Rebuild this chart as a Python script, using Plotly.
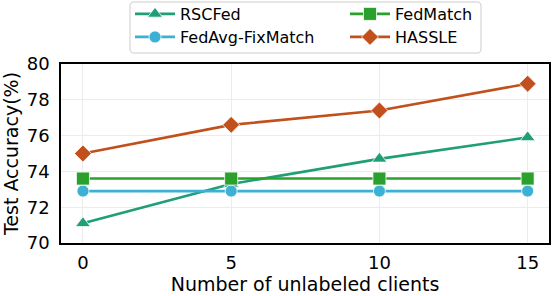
import plotly.graph_objects as go

clients = [0, 5, 10, 15]
rscfed = [71.1, 73.3, 74.7, 75.9]
fedavg_fixmatch = [72.9, 72.9, 72.9, 72.9]
fedmatch = [73.6, 73.6, 73.6, 73.6]
hassle = [75.0, 76.6, 77.4, 78.9]
x_ticks = [0, 5, 10, 15]
y_ticks = [70, 72, 74, 76, 78, 80]

W, H = 552, 296
L, R, T, B = 61, 3, 64, 53
PW, PH = W - L - R, H - T - B

def px_x(p):
    return (p - L) / PW

def px_y(p):
    return (H - B - p) / PH

# name, values, colour, symbol, size, legend id, legend pixel position (left, top)
series = [
    ("RSCFed", rscfed, "#1f9e77", "triangle-up", 13, "legend", (130, -3)),
    ("FedAvg-FixMatch", fedavg_fixmatch, "#3cb1d3", "circle", 12, "legend2", (130, 20)),
    ("FedMatch", fedmatch, "#2ca02c", "square", 13, "legend3", (345, -3)),
    ("HASSLE", hassle, "#c1501c", "diamond", 13, "legend4", (345, 20)),
]

fig = go.Figure()
for name, vals, color, sym, size, lg, pos in series:
    fig.add_trace(go.Scatter(
        x=clients, y=vals, name=name, mode="lines+markers",
        line=dict(color=color, width=2.6),
        marker=dict(symbol=sym, size=size, color=color,
                    line=dict(color="rgba(255,255,255,0.75)", width=1)),
        legend=lg, showlegend=True,
    ))

# rounded legend frame
x0, x1, y0, y1 = 130, 481, 2, 53
r = 4
def P(x, y):
    return f"{px_x(x):.5f},{px_y(y):.5f}"
path = (f"M{P(x0 + r, y0)} L{P(x1 - r, y0)} Q{P(x1, y0)} {P(x1, y0 + r)} "
        f"L{P(x1, y1 - r)} Q{P(x1, y1)} {P(x1 - r, y1)} "
        f"L{P(x0 + r, y1)} Q{P(x0, y1)} {P(x0, y1 - r)} "
        f"L{P(x0, y0 + r)} Q{P(x0, y0)} {P(x0 + r, y0)} Z")
fig.add_shape(type="path", path=path, xref="paper", yref="paper",
              line=dict(color="#cccccc", width=1), fillcolor="rgba(255,255,255,0.9)",
              layer="above")

font = "DejaVu Sans"
leg_common = dict(bgcolor="rgba(0,0,0,0)", borderwidth=0, font=dict(family=font, size=16, color="black"),
                  itemwidth=40, tracegroupgap=0, xanchor="left", yanchor="top", orientation="v")
legends = {}
for name, vals, color, sym, size, lg, pos in series:
    legends[lg] = dict(x=px_x(pos[0]), y=px_y(pos[1]), **leg_common)

fig.update_layout(
    width=W, height=H,
    margin=dict(l=L, r=R, t=T, b=B, autoexpand=False),
    showlegend=True,
    paper_bgcolor="white", plot_bgcolor="white",
    font=dict(family=font, color="black"),
    xaxis=dict(range=[-0.74, 15.72], tickvals=x_ticks, ticktext=[str(v) for v in x_ticks],
               showgrid=True, gridcolor="#ececec", gridwidth=1, zeroline=False,
               showline=True, linecolor="black", linewidth=1.5, mirror=True,
               ticks="", ticklabelstandoff=3, automargin=False,
               tickfont=dict(size=18, family=font),
               title=dict(text="Number of unlabeled clients", font=dict(size=19, family=font), standoff=0)),
    yaxis=dict(range=[70, 80], tickvals=y_ticks, ticktext=[str(v) for v in y_ticks],
               showgrid=True, gridcolor="#ececec", gridwidth=1, zeroline=False,
               showline=True, linecolor="black", linewidth=1.5, mirror=True,
               ticks="outside", ticklen=6, tickcolor="rgba(0,0,0,0)", automargin=False,
               tickfont=dict(size=18, family=font),
               title=dict(text="Test Accuracy(%)", font=dict(size=19, family=font), standoff=4)),
    **legends,
)

fig.write_html("out.html", config={"displayModeBar": False},
               post_script="document.body.style.margin='0';document.body.style.overflow='hidden';")
